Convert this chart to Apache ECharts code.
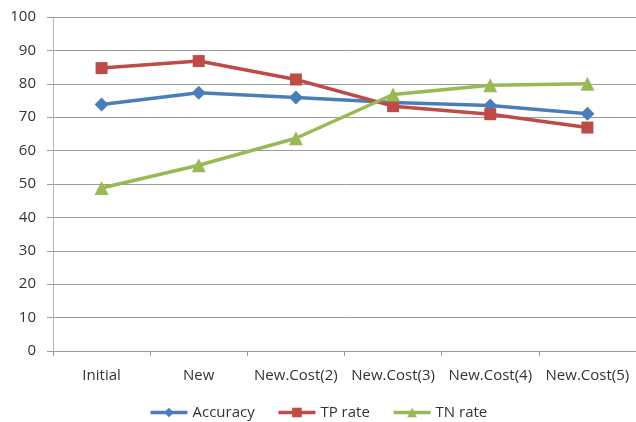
<!DOCTYPE html>
<html>
<head>
<meta charset="utf-8">
<script src="https://cdn.jsdelivr.net/npm/echarts@6/dist/echarts.min.js"></script>
<style>
  html, body { margin: 0; padding: 0; background: #fff; }
  #chart { width: 636px; height: 422px; }
</style>
</head>
<body>
<div id="chart"></div>
<script>
// Model variants on the x axis
const categories = ['Initial', 'New', 'New.Cost(2)', 'New.Cost(3)', 'New.Cost(4)', 'New.Cost(5)'];

// Rates (%) per variant
const accuracy = [73.8, 77.3, 75.9, 74.4, 73.5, 71.0];
const tpRate   = [84.7, 86.8, 81.3, 73.3, 70.9, 66.9];
const tnRate   = [48.8, 55.6, 63.7, 76.8, 79.6, 80.0];

// Value-axis ticks
const yMin = 0, yMax = 100, yStep = 10;

const FONT = 'Open Sans';
const TEXT = '#333333';

const chart = echarts.init(document.getElementById('chart'), null, { renderer: 'canvas' });

function lineSeries(name, data, color, symbol, size) {
  return {
    name: name,
    type: 'line',
    data: data,
    symbol: symbol,
    symbolSize: size,
    lineStyle: { color: color, width: 3.5 },
    itemStyle: { color: color },
    emphasis: { disabled: true },
    animation: false
  };
}

chart.setOption({
  backgroundColor: '#ffffff',
  animation: false,
  grid: { left: 53, top: 17, width: 586, height: 334, containLabel: false },
  legend: {
    bottom: -3,
    left: 'center',
    itemWidth: 37,
    itemHeight: 12,
    itemGap: 22,
    lineStyle: { width: 3.5 },
    textStyle: { fontFamily: FONT, fontSize: 15, color: TEXT },
    data: ['Accuracy', 'TP rate', 'TN rate']
  },
  xAxis: {
    type: 'category',
    data: categories,
    boundaryGap: true,
    axisLine: { lineStyle: { color: '#9a9a9a', width: 1 } },
    axisTick: { show: true, alignWithLabel: false, length: 5, lineStyle: { color: '#9a9a9a' } },
    axisLabel: { margin: 17, fontFamily: FONT, fontSize: 15, color: TEXT, interval: 0 },
    splitLine: { show: false }
  },
  yAxis: {
    type: 'value',
    min: yMin,
    max: yMax,
    interval: yStep,
    axisLine: { show: true, lineStyle: { color: '#b5b5b5', width: 1 } },
    axisTick: { show: true, length: 6, lineStyle: { color: '#9a9a9a' } },
    axisLabel: { margin: 17, fontFamily: FONT, fontSize: 15, color: TEXT },
    splitLine: { show: true, lineStyle: { color: '#9a9a9a', width: 1 } }
  },
  series: [
    lineSeries('Accuracy', accuracy, '#4a7ebb', 'diamond', 14),
    lineSeries('TP rate', tpRate, '#be4b48', 'rect', 12),
    lineSeries('TN rate', tnRate, '#98b954', 'triangle', 14)
  ]
});
</script>
</body>
</html>
